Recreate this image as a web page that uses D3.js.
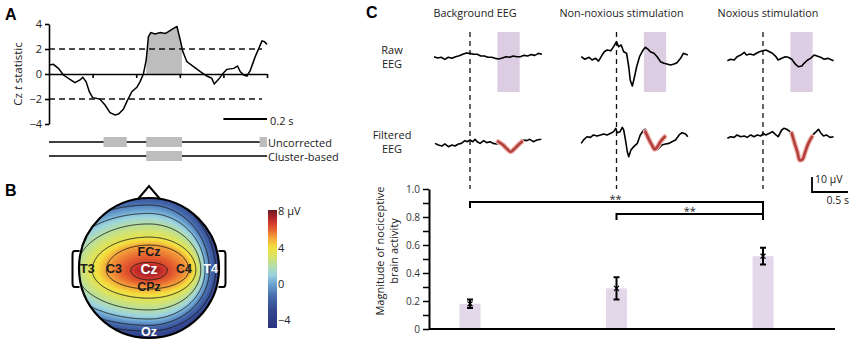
<!DOCTYPE html>
<html>
<head>
<meta charset="utf-8">
<script src="https://cdn.jsdelivr.net/npm/d3@7"></script>
<style>
  body { margin: 0; background: #fff; }
  svg { font-family: "Open Sans", sans-serif; }
  .panel-label { font-family: "Liberation Sans", Arial, sans-serif; font-weight: bold; font-size: 16px; }
</style>
</head>
<body>
<div id="figure"></div>
<script>
const width = 856;
const height = 348;

//////// Panel A data: Cz t statistic ////////
const czTime = [0, 0.02, 0.043, 0.066, 0.096, 0.119, 0.142, 0.155, 0.17, 0.185, 0.2, 0.219, 0.234, 0.257, 0.28,
    0.303, 0.319, 0.341, 0.357, 0.38, 0.403, 0.418, 0.433, 0.446, 0.456, 0.467, 0.487, 0.51, 0.533, 0.548, 0.564,
    0.579, 0.587, 0.602, 0.614, 0.632, 0.663, 0.694, 0.724, 0.747, 0.758, 0.778, 0.801, 0.816, 0.847, 0.865,
    0.877, 0.893, 0.908, 0.923, 0.946, 0.966, 0.977, 0.988, 1.0];
const czStat = [0.72, 0.77, 0.45, -0.08, -0.43, -0.69, -0.48, -0.27, -0.61, -1.41, -1.89, -1.95, -2.03, -2.48, -3.09,
    -3.28, -3.2, -2.83, -2.21, -1.41, -1.07, -0.61, 0, 1.12, 2.99, 3.31, 3.2, 3.31, 3.25, 3.39, 3.57,
    3.73, 3.79, 2.72, 1.79, 0.99, 0.59, 0.19, -0.16, -0.35, -0.8, -0.43, 0.11, 0.37, 0.45, 0.64,
    0.19, -0.08, -0.16, 0.27, 1.39, 2.19, 2.64, 2.59, 2.37];
const tTicks = [4, 2, 0, -2, -4];
const timeTicks = [0.2, 0.4, 0.6, 0.8, 1.0];
const tThreshold = 2;
const uncorrectedWindows = [[0.25, 0.357], [0.446, 0.61], [0.966, 1.0]];
const clusterWindows = [[0.446, 0.61]];

//////// Panel B data: scalp map at Cz peak ////////
// level (µV) and the distance (head radii) of that level from the peak in each direction
const topoLevels = [8, 6.5, 5, 3.5, 2, 0.5, -1, -2.5, -4.5];
const topoUp     = [0, 0.11, 0.36, 0.47, 0.66, 0.81, 0.93, 1.05, 1.25];
const topoDown   = [0, 0.14, 0.27, 0.40, 0.57, 0.70, 0.79, 0.87, 1.05];
const topoRight  = [0, 0.26, 0.57, 0.67, 0.74, 0.80, 0.86, 0.95, 1.12];
const topoLeft   = [0, 0.26, 0.61, 0.81, 1.04, 1.25, 1.45, 1.65, 1.95];
const topoPeak = [0, -0.03];
const contourLevels = [6.5, 5, 3.5, 2, 0.5, -1, -2.5];
const electrodeNames = ['FCz', 'T3', 'C3', 'Cz', 'C4', 'T4', 'CPz', 'Oz'];
const electrodeX = [0, -0.88, -0.5, 0, 0.5, 0.88, 0, 0];
const electrodeY = [0.25, 0, 0, 0, 0, 0, -0.25, -0.9];
const colorbarTicks = [8, 4, 0, -4];

//////// Panel C data: single-trial EEG and template fits ////////
const conditions = ['Background EEG', 'Non-noxious stimulation', 'Noxious stimulation'];
const rawTraces = [
    [[-0.5,0.2],[-0.45,-0.7],[-0.4,-0.2],[-0.35,-1.6],[-0.3,-0.2],[-0.25,-0.9],[-0.2,0.2],[-0.15,0.9],[-0.1,1.8],
     [-0.05,2.7],[0,2.4],[0.05,1.8],[0.1,1.8],[0.15,0.7],[0.2,0.7],[0.25,-0.2],[0.3,-0.2],[0.35,-0.9],[0.4,-1.3],
     [0.45,-0.7],[0.5,0.2],[0.55,-0.2],[0.6,0.7],[0.65,0.2],[0.7,0.2],[0.75,1.1],[0.8,0.7],[0.85,1.6],[0.9,1.1],
     [0.95,2.4],[1.0,1.8]],
    [[-0.49,0.2],[-0.44,-1.5],[-0.38,-0.2],[-0.34,-2],[-0.29,-0.9],[-0.25,-2.7],[-0.2,1.3],[-0.17,3.5],[-0.13,4.7],
     [-0.08,4.2],[-0.04,6.9],[0,10.2],[0.03,6.9],[0.065,8],[0.1,3.5],[0.14,2.5],[0.17,-6.5],[0.19,-15.3],[0.22,-19.3],
     [0.24,-15.3],[0.28,-6.5],[0.32,0.2],[0.37,4.7],[0.4,6.5],[0.44,5.1],[0.47,3.5],[0.52,2.5],[0.565,0.2],
     [0.61,-3.1],[0.66,-4.2],[0.7,-4.7],[0.75,-5.3],[0.8,-4.7],[0.84,-3.8],[0.89,-0.9],[0.93,2.5],[0.99,1.3]],
    [[-0.495,-2.5],[-0.45,-1.5],[-0.4,-2],[-0.36,0.2],[-0.31,1.3],[-0.26,3.1],[-0.23,1.3],[-0.18,2],[-0.13,1.3],
     [-0.09,2.5],[-0.05,3.5],[0,4.2],[0.04,4.7],[0.09,3.5],[0.13,2.5],[0.18,0.2],[0.21,-2],[0.26,-0.9],[0.31,0.2],
     [0.35,-0.2],[0.4,-1.5],[0.44,-4.2],[0.49,-6.5],[0.54,-6],[0.57,-4.2],[0.62,-2],[0.66,-0.9],[0.71,1.3],
     [0.75,0.7],[0.8,-0.2],[0.85,-1.5],[0.9,-0.9],[0.98,-2.5]]
];
const filteredTraces = [
    [[-0.486,-0.9],[-0.44,-2],[-0.39,-2.7],[-0.35,-1.3],[-0.3,-3.1],[-0.25,-2],[-0.21,-2.7],[-0.16,-1.3],[-0.12,-0.9],
     [-0.07,0.9],[-0.04,0.2],[0,1.3],[0.04,0.2],[0.07,1.8],[0.1,0.2],[0.14,-0.9],[0.19,0.9],[0.23,-0.4],[0.28,0.2],
     [0.32,-0.9],[0.37,-1.3],[0.42,-0.4],[0.49,-3.1],[0.56,-6.5],[0.625,-3.1],[0.69,0.2],[0.74,1.3],[0.79,0.9],
     [0.83,1.8],[0.88,0.2],[0.93,1.3],[0.99,1.8]],
    [[-0.49,-0.9],[-0.45,1.8],[-0.41,3.5],[-0.36,3.1],[-0.32,4.7],[-0.27,4],[-0.22,4.7],[-0.18,5.3],[-0.13,4.7],
     [-0.08,5.8],[-0.04,6.9],[-0.01,9.1],[0.01,6.2],[0.05,6.9],[0.08,9.8],[0.1,8],[0.125,1.3],[0.15,-6.5],
     [0.17,-9.8],[0.2,-5.3],[0.24,-3.1],[0.29,-0.9],[0.33,4.7],[0.37,7.5],[0.4,8.5],[0.43,5.8],[0.47,1.8],
     [0.52,-3.1],[0.56,-5.3],[0.59,-4.2],[0.63,-2],[0.68,-1.3],[0.73,-0.9],[0.77,0.2],[0.82,1.3],[0.87,4.7],
     [0.91,6.2],[0.96,5.3],[0.99,3.5]],
    [[-0.495,2.5],[-0.45,3.5],[-0.4,3.1],[-0.36,4.7],[-0.31,3.5],[-0.26,4],[-0.22,3.1],[-0.17,4.7],[-0.125,3.5],
     [-0.08,4.7],[-0.03,4],[0,5.8],[0.04,4.7],[0.09,5.8],[0.13,6.9],[0.18,4.7],[0.21,3.5],[0.26,8],[0.29,9.1],
     [0.33,8.5],[0.375,6.9],[0.41,3.5],[0.44,-3.1],[0.48,-8.7],[0.51,-12.5],[0.55,-11.5],[0.58,-7.5],[0.61,-2],
     [0.65,2.5],[0.69,4.7],[0.74,6.9],[0.77,8.5],[0.8,6.2],[0.84,4],[0.88,4.7],[0.93,3.1],[0.98,3.5]]
];
const templateFits = [
    [[0.39,0.2],[0.46,-2],[0.52,-4.9],[0.565,-6.5],[0.61,-4.9],[0.67,-2],[0.72,0.2]],
    [[0.4,6.9],[0.45,1.8],[0.5,-2.7],[0.53,-4.9],[0.57,-3.1],[0.61,0.2],[0.67,3.5]],
    [[0.4,5.8],[0.44,-0.9],[0.48,-7.1],[0.51,-12],[0.55,-11.5],[0.58,-7.5],[0.63,-0.9],[0.68,3.5]]
];
const responseWindow = [0.38, 0.69];
const magnitudeMean = [0.18, 0.29, 0.52];
const magnitudeSem = [0.03, 0.08, 0.06];
const magnitudeTicks = [0, 0.1, 0.2, 0.3, 0.4, 0.5, 0.6, 0.7, 0.8, 0.9, 1.0];

const svg = d3.select('#figure')
    .append('svg')
    .attr('width', width)
    .attr('height', height)
    .style('background', '#fff');

const minus = d => d < 0 ? '\u2212' + Math.abs(d) : String(d);

//////// Panel A ////////
const gA = svg.append('g').attr('class', 'panel-a');

gA.append('text').attr('class', 'panel-label')
    .attr('x', 5).attr('y', 20).text('A');

const aX = d3.scaleLinear().domain([0, 1]).range([49, 267]);
const aY = d3.scaleLinear().domain([-4, 4]).range([124, 24]);

const czData = czTime.map((t, i) => [t, czStat[i]]);

// shaded significant stretch
gA.append('clipPath').attr('id', 'sig-clip')
    .append('rect')
    .attr('x', aX(clusterWindows[0][0]))
    .attr('width', aX(clusterWindows[0][1]) - aX(clusterWindows[0][0]))
    .attr('y', 0).attr('height', height);

gA.append('path')
    .datum(czData)
    .attr('clip-path', 'url(#sig-clip)')
    .attr('fill', '#bdbdbd')
    .attr('d', d3.area().x(d => aX(d[0])).y0(aY(0)).y1(d => aY(d[1])));

// threshold lines
gA.selectAll('line.thresh')
    .data([tThreshold, -tThreshold])
    .join('line')
    .attr('class', 'thresh')
    .attr('x1', aX(0)).attr('x2', aX(0.977))
    .attr('y1', d => aY(d)).attr('y2', d => aY(d))
    .attr('stroke', '#111').attr('stroke-width', 1.5)
    .attr('stroke-dasharray', '6,4');

const aYAxis = gA.append('g')
    .attr('transform', `translate(${aX(0)},0)`)
    .call(d3.axisLeft(aY).tickValues(tTicks).tickSize(4).tickSizeOuter(0).tickFormat(minus));
aYAxis.select('.domain').attr('stroke-width', 1.6);
aYAxis.selectAll('.tick line').attr('stroke-width', 1.6);
aYAxis.selectAll('text').attr('font-size', 11).attr('fill', '#222').attr('font-family', '"Open Sans", sans-serif');

const aXAxis = gA.append('g')
    .attr('transform', `translate(0,${aY(0)})`)
    .call(d3.axisBottom(aX).tickValues(timeTicks).tickSize(4).tickSizeOuter(0).tickFormat(''));
aXAxis.select('.domain').attr('stroke-width', 1.6);
aXAxis.selectAll('.tick line').attr('stroke-width', 1.6);

gA.append('path')
    .datum(czData)
    .attr('fill', 'none')
    .attr('stroke', '#000')
    .attr('stroke-width', 1.5)
    .attr('d', d3.line().x(d => aX(d[0])).y(d => aY(d[1])));

const aLabel = gA.append('text')
    .attr('transform', `translate(17,${aY(0)}) rotate(-90)`)
    .attr('text-anchor', 'middle')
    .attr('dominant-baseline', 'central')
    .attr('font-size', 11.5)
    .attr('fill', '#222');
aLabel.append('tspan').text('Cz ');
aLabel.append('tspan').attr('font-style', 'italic').text('t');
aLabel.append('tspan').text(' statistic');

// 0.2 s scale bar
gA.append('line')
    .attr('x1', aX(0.8)).attr('x2', aX(1.0))
    .attr('y1', 119).attr('y2', 119)
    .attr('stroke', '#000').attr('stroke-width', 2);
gA.append('text')
    .attr('x', aX(1.0) + 3).attr('y', 120)
    .attr('dominant-baseline', 'central')
    .attr('font-size', 11).attr('fill', '#222')
    .text('0.2 s');

// significance rows
const sigRows = [
    {label: 'Uncorrected', windows: uncorrectedWindows, y: 142},
    {label: 'Cluster-based', windows: clusterWindows, y: 156}
];
sigRows.forEach(row => {
    gA.append('line')
        .attr('x1', aX(0)).attr('x2', aX(1))
        .attr('y1', row.y).attr('y2', row.y)
        .attr('stroke', '#000').attr('stroke-width', 1.6);
    gA.selectAll(null)
        .data(row.windows)
        .join('rect')
        .attr('x', d => aX(d[0]))
        .attr('width', d => aX(d[1]) - aX(d[0]))
        .attr('y', row.y - 5).attr('height', 10)
        .attr('fill', '#bdbdbd');
    gA.append('text')
        .attr('x', aX(1) + 1).attr('y', row.y)
        .attr('dominant-baseline', 'central')
        .attr('font-size', 11).attr('fill', '#222')
        .text(row.label);
});

//////// Panel B ////////
const gB = svg.append('g').attr('class', 'panel-b');

gB.append('text').attr('class', 'panel-label')
    .attr('x', 5).attr('y', 196).text('B');

const head = {cx: 149, cy: 268, r: 70};

const topoColor = d3.scaleLinear()
    .domain([-4.9, -3, -1.5, 0, 1, 2, 3, 4, 5, 6, 7, 8.1])
    .range(['#29337f', '#34468f', '#4568ab', '#6ea7d3', '#9dd4e0', '#b6dea4', '#d8e364',
            '#f4e03e', '#f4a63b', '#e65d2f', '#c22a2a', '#6b1921'])
    .clamp(true);

// field value at head coordinates (u right, v up, in head radii)
function topoValue(u, v) {
    const du = u - topoPeak[0], dv = v - topoPeak[1];
    const d = Math.hypot(du, dv);
    if (d === 0) return topoLevels[0];
    const radii = topoLevels.map((l, i) => {
        if (i === 0) return 0;
        const a = du >= 0 ? topoRight[i] : topoLeft[i];
        const b = dv >= 0 ? topoUp[i] : topoDown[i];
        return 1 / Math.hypot(du / d / a, dv / d / b);
    });
    return d3.scaleLinear().domain(radii).range(topoLevels)(d);
}

const gridN = 161;
const gridX0 = head.cx - 80, gridY0 = head.cy - 80;
const gridValues = new Array(gridN * gridN);
for (let j = 0; j < gridN; j++) {
    for (let i = 0; i < gridN; i++) {
        const u = (gridX0 + i + 0.5 - head.cx) / head.r;
        const v = (head.cy - (gridY0 + j + 0.5)) / head.r;
        gridValues[j * gridN + i] = topoValue(u, v);
    }
}

gB.append('clipPath').attr('id', 'head-clip')
    .append('circle').attr('cx', head.cx).attr('cy', head.cy).attr('r', head.r);

const mapG = gB.append('g').attr('clip-path', 'url(#head-clip)');
mapG.append('circle')
    .attr('cx', head.cx).attr('cy', head.cy).attr('r', head.r)
    .attr('fill', topoColor(-4.9));

const fillThresholds = d3.range(-5, 8.2, 0.2);
const gridG = mapG.append('g').attr('transform', `translate(${gridX0},${gridY0})`);
gridG.selectAll('path.band')
    .data(d3.contours().size([gridN, gridN]).thresholds(fillThresholds)(gridValues))
    .join('path')
    .attr('class', 'band')
    .attr('d', d3.geoPath())
    .attr('fill', d => topoColor(d.value + 0.1));

gridG.selectAll('path.iso')
    .data(d3.contours().size([gridN, gridN]).thresholds(contourLevels)(gridValues))
    .join('path')
    .attr('class', 'iso')
    .attr('d', d3.geoPath())
    .attr('fill', 'none')
    .attr('stroke', '#1a1a1a')
    .attr('stroke-width', 0.9);

// nose and ears
gB.append('path')
    .attr('d', `M${head.cx - 11},${head.cy - 69} L${head.cx},${head.cy - 82} L${head.cx + 11},${head.cy - 69}`)
    .attr('fill', '#fff').attr('stroke', '#000').attr('stroke-width', 2).attr('stroke-linejoin', 'miter');
[-1, 1].forEach(side => {
    const x0 = head.cx + side * 69.5;
    const x1 = head.cx + side * 76.5;
    gB.append('path')
        .attr('d', `M${x0},${head.cy - 17} L${x1 - side * 2},${head.cy - 17} Q${x1},${head.cy - 17} ${x1},${head.cy - 13}
                    L${x1},${head.cy + 15} Q${x1},${head.cy + 19} ${x1 - side * 2},${head.cy + 19} L${x0},${head.cy + 19}`)
        .attr('fill', 'none').attr('stroke', '#000').attr('stroke-width', 2);
});
gB.append('circle')
    .attr('cx', head.cx).attr('cy', head.cy).attr('r', head.r)
    .attr('fill', 'none').attr('stroke', '#000').attr('stroke-width', 2.2);

gB.selectAll('text.electrode')
    .data(electrodeNames)
    .join('text')
    .attr('class', 'electrode')
    .attr('x', (d, i) => head.cx + electrodeX[i] * head.r)
    .attr('y', (d, i) => head.cy - electrodeY[i] * head.r + 1)
    .attr('text-anchor', 'middle')
    .attr('dominant-baseline', 'central')
    .attr('font-family', '"Liberation Sans", Arial, sans-serif')
    .attr('font-weight', 'bold')
    .attr('font-size', d => d === 'Cz' ? 14 : 12.5)
    .attr('fill', (d, i) => d3.lab(topoColor(topoValue(electrodeX[i], electrodeY[i]))).l < 58 ? '#fff' : '#1c1c1c')
    .text(d => d);

// colour bar
const cbScale = d3.scaleLinear().domain([-4.9, 8.1]).range([328, 210]);
const grad = svg.append('defs').append('linearGradient')
    .attr('id', 'cb-grad').attr('x1', 0).attr('x2', 0).attr('y1', 1).attr('y2', 0);
grad.selectAll('stop')
    .data(d3.range(0, 1.0001, 0.025))
    .join('stop')
    .attr('offset', d => d)
    .attr('stop-color', d => topoColor(-4.9 + d * 13));
gB.append('rect')
    .attr('x', 268).attr('width', 9)
    .attr('y', cbScale(8.1)).attr('height', cbScale(-4.9) - cbScale(8.1))
    .attr('fill', 'url(#cb-grad)');
gB.selectAll('text.cb')
    .data(colorbarTicks)
    .join('text')
    .attr('class', 'cb')
    .attr('x', 278).attr('y', d => cbScale(d))
    .attr('dominant-baseline', 'central')
    .attr('font-size', 11).attr('fill', '#222')
    .text(d => d === 8 ? '8 \u00b5V' : minus(d));

//////// Panel C ////////
const gC = svg.append('g').attr('class', 'panel-c');

gC.append('text').attr('class', 'panel-label')
    .attr('x', 366).attr('y', 18).text('C');

const cX = d3.scalePoint().domain(conditions).range([470, 763]);
const cT = d3.scaleLinear().domain([0, 1]).range([0, 72]);    // s -> px
const cV = d3.scaleLinear().domain([0, 10]).range([0, -15]);  // µV -> px
const rawBase = 57, filtBase = 142;

gC.selectAll('text.title')
    .data(conditions)
    .join('text')
    .attr('class', 'title')
    .attr('x', d => cX(d) + 5).attr('y', 12)
    .attr('text-anchor', 'middle')
    .attr('dominant-baseline', 'central')
    .attr('font-size', 10.8).attr('fill', '#222')
    .text(d => d);

[['Raw', 'EEG', 49], ['Filtered', 'EEG', 134]].forEach(([l1, l2, y]) => {
    const t = gC.append('text')
        .attr('text-anchor', 'middle')
        .attr('font-size', 11).attr('fill', '#222');
    t.append('tspan').attr('x', 392).attr('y', y).attr('dominant-baseline', 'central').text(l1);
    t.append('tspan').attr('x', 392).attr('y', y + 14).attr('dominant-baseline', 'central').text(l2);
});

// response window
gC.selectAll('rect.window')
    .data(conditions)
    .join('rect')
    .attr('class', 'window')
    .attr('x', d => cX(d) + cT(responseWindow[0]))
    .attr('width', cT(responseWindow[1] - responseWindow[0]))
    .attr('y', 32).attr('height', 60)
    .attr('fill', '#dccde2');

// stimulus onset
gC.selectAll('line.onset')
    .data(conditions)
    .join('line')
    .attr('class', 'onset')
    .attr('x1', d => cX(d)).attr('x2', d => cX(d))
    .attr('y1', 32).attr('y2', 189)
    .attr('stroke', '#111').attr('stroke-width', 1.3)
    .attr('stroke-dasharray', '5,4');

const traceLine = (c, base) => d3.line()
    .x(d => cX(c) + cT(d[0]))
    .y(d => base + cV(d[1]));

conditions.forEach((c, i) => {
    gC.append('path')
        .datum(rawTraces[i])
        .attr('fill', 'none').attr('stroke', '#000').attr('stroke-width', 1.6)
        .attr('stroke-linejoin', 'round')
        .attr('d', traceLine(c, rawBase));
    gC.append('path')
        .datum(filteredTraces[i])
        .attr('fill', 'none').attr('stroke', '#000').attr('stroke-width', 1.6)
        .attr('stroke-linejoin', 'round')
        .attr('d', traceLine(c, filtBase));
    const fit = traceLine(c, filtBase).curve(d3.curveCatmullRom);
    gC.append('path')
        .datum(templateFits[i])
        .attr('fill', 'none').attr('stroke', '#eeb4b0').attr('stroke-width', 5)
        .attr('stroke-linecap', 'round').attr('d', fit);
    gC.append('path')
        .datum(templateFits[i])
        .attr('fill', 'none').attr('stroke', '#b3403b').attr('stroke-width', 2.6)
        .attr('stroke-linecap', 'round').attr('d', fit);
});

// 10 µV / 0.5 s scale bar
const sbX = 812, sbY = 192;
gC.append('path')
    .attr('d', `M${sbX},${sbY + cV(10)} V${sbY} H${sbX + cT(0.5)}`)
    .attr('fill', 'none').attr('stroke', '#000').attr('stroke-width', 1.8);
gC.append('text')
    .attr('x', sbX + 3).attr('y', sbY + cV(10) + 2)
    .attr('dominant-baseline', 'central')
    .attr('font-size', 10.5).attr('fill', '#222')
    .text('10 \u00b5V');
gC.append('text')
    .attr('x', sbX + cT(0.5) + 1).attr('y', sbY + 8)
    .attr('text-anchor', 'end')
    .attr('dominant-baseline', 'central')
    .attr('font-size', 10.5).attr('fill', '#222')
    .text('0.5 s');

//////// Panel C bar chart ////////
const bY = d3.scaleLinear().domain([0, 1]).range([329, 189]);
const barW = 21;

gC.selectAll('rect.bar')
    .data(conditions)
    .join('rect')
    .attr('class', 'bar')
    .attr('x', d => cX(d) - barW / 2)
    .attr('width', barW)
    .attr('y', (d, i) => bY(magnitudeMean[i]))
    .attr('height', (d, i) => bY(0) - bY(magnitudeMean[i]))
    .attr('fill', '#e3d8ea');

conditions.forEach((c, i) => {
    const lo = bY(magnitudeMean[i] - magnitudeSem[i]);
    const hi = bY(magnitudeMean[i] + magnitudeSem[i]);
    const x = cX(c);
    gC.append('path')
        .attr('d', `M${x},${lo} V${hi} M${x - 3},${lo} H${x + 3} M${x - 3},${hi} H${x + 3}`)
        .attr('fill', 'none').attr('stroke', '#000').attr('stroke-width', 2);
    gC.append('path')
        .attr('transform', `translate(${x},${bY(magnitudeMean[i])})`)
        .attr('d', d3.symbol(d3.symbolTimes, 18)())
        .attr('fill', 'none').attr('stroke', '#000').attr('stroke-width', 1.2);
});

const bAxis = gC.append('g')
    .attr('transform', 'translate(429,0)')
    .call(d3.axisLeft(bY)
        .tickValues(magnitudeTicks)
        .tickSize(6)
        .tickSizeOuter(0)
        .tickFormat(d => Math.round(d * 10) % 2 ? '' : (d === 0 ? '0' : d3.format('.1f')(d))));
bAxis.select('.domain').attr('stroke-width', 2);
bAxis.selectAll('.tick line').attr('stroke-width', 1.5);
bAxis.selectAll('text').attr('font-size', 10).attr('fill', '#333').attr('font-family', '"Open Sans", sans-serif');

gC.append('line')
    .attr('x1', 429).attr('x2', 835)
    .attr('y1', bY(0)).attr('y2', bY(0))
    .attr('stroke', '#000').attr('stroke-width', 2);

[['Magnitude of nociceptive', 379], ['brain activity', 393]].forEach(([txt, x]) => {
    gC.append('text')
        .attr('transform', `translate(${x},251) rotate(-90)`)
        .attr('text-anchor', 'middle')
        .attr('dominant-baseline', 'central')
        .attr('font-size', 11).attr('fill', '#222')
        .text(txt);
});

// significance brackets
const bgX = cX(conditions[0]), nnX = cX(conditions[1]), nxX = cX(conditions[2]);
gC.append('path')
    .attr('d', `M${bgX},208 V202 H${nxX} V220`)
    .attr('fill', 'none').attr('stroke', '#000').attr('stroke-width', 2);
gC.append('path')
    .attr('d', `M${nnX},220 V214 H${nxX}`)
    .attr('fill', 'none').attr('stroke', '#000').attr('stroke-width', 2);
gC.append('text')
    .attr('x', nnX - 1).attr('y', 198)
    .attr('text-anchor', 'middle').attr('dominant-baseline', 'central')
    .attr('font-size', 11).attr('fill', '#222')
    .text('**');
gC.append('text')
    .attr('x', (nnX + nxX) / 2).attr('y', 210)
    .attr('text-anchor', 'middle').attr('dominant-baseline', 'central')
    .attr('font-size', 11).attr('fill', '#222')
    .text('**');
</script>
</body>
</html>
